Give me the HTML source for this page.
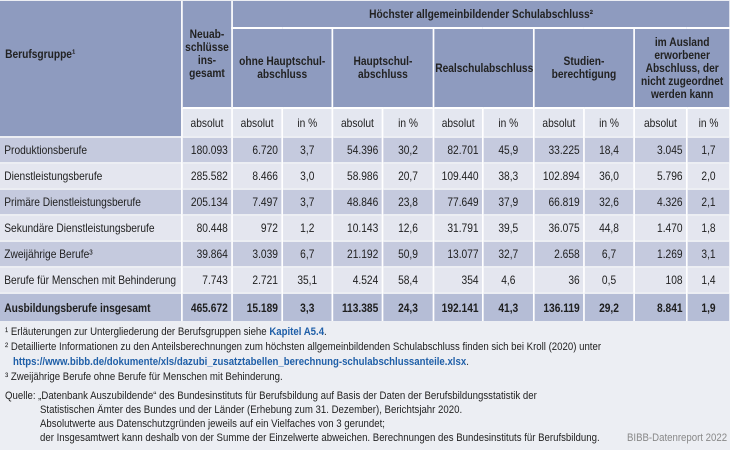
<!DOCTYPE html>
<html><head><meta charset="utf-8"><style>
*{margin:0;padding:0;box-sizing:border-box}
body{width:730px;height:450px;background:#eceef3;font-family:"Liberation Sans",sans-serif;color:#1e1e1e;position:relative;overflow:hidden}
.wrap{position:absolute;left:0;top:1px;width:859px;transform:scaleX(0.85);transform-origin:0 0}
table{border-collapse:collapse;table-layout:fixed;width:859px;font-size:12px}
td{border:2px solid #fff;border-top:none;border-bottom:none;padding:0 4px;white-space:nowrap}
tr.h td{background:#8e9bbf;font-weight:bold;text-align:center;color:#222;line-height:13px;padding:0 1px}
tr.s td{background:#e4e7f0;text-align:center;height:29px;border-top:2px solid #fff}
tr.d td{background:#c5cade;text-align:right;height:26px;border-top:2px solid #eceef3}
tr.l td{background:#e4e6ef;text-align:right;height:26px;border-top:2px solid #eceef3}
tr.t td{background:#b5bdd6;text-align:right;height:28px;font-weight:bold;border-top:2px solid #eceef3}
td.f{text-align:left!important;border-left:none}
tr.d td:first-child,tr.l td:first-child,tr.t td:first-child{text-align:left;border-left:none;padding-left:5px}
.p{text-align:center!important}
.fn{position:absolute;left:5px;font-size:11px;white-space:nowrap;color:#222;transform:scaleX(0.875);transform-origin:0 0}
a{color:#1f5fa8;font-weight:bold;text-decoration:none}
</style></head><body>
<div class="wrap">
<table>
<colgroup><col style="width:214px"><col style="width:59px"><col style="width:59px"><col style="width:59px"><col style="width:59px"><col style="width:60px"><col style="width:58px"><col style="width:60px"><col style="width:59px"><col style="width:59px"><col style="width:62px"><col style="width:51px"></colgroup>
<tr class="h"><td rowspan="2" class="f" style="padding-left:6px;height:107px">Berufsgruppe¹</td><td rowspan="2">Neuab-<br>schlüsse<br>ins-<br>gesamt</td><td colspan="10" style="height:27px;border-bottom:2px solid #fff">Höchster allgemeinbildender Schulabschluss²</td></tr>
<tr class="h"><td colspan="2" style="height:80px">ohne Hauptschul-<br>abschluss</td><td colspan="2">Hauptschul-<br>abschluss</td><td colspan="2">Realschulabschluss</td><td colspan="2">Studien-<br>berechtigung</td><td colspan="2">im Ausland<br>erworbener<br>Abschluss, der<br>nicht zugeordnet<br>werden kann</td></tr>
<tr class="s"><td style="background:#8e9bbf;border-top:none;border-left:none"></td><td>absolut</td><td>absolut</td><td>in %</td><td>absolut</td><td>in %</td><td>absolut</td><td>in %</td><td>absolut</td><td>in %</td><td>absolut</td><td>in %</td></tr>
<tr class="d"><td>Produktionsberufe</td><td>180.093</td><td>6.720</td><td class="p">3,7</td><td>54.396</td><td class="p">30,2</td><td>82.701</td><td class="p">45,9</td><td>33.225</td><td class="p">18,4</td><td>3.045</td><td class="p">1,7</td></tr>
<tr class="l"><td>Dienstleistungsberufe</td><td>285.582</td><td>8.466</td><td class="p">3,0</td><td>58.986</td><td class="p">20,7</td><td>109.440</td><td class="p">38,3</td><td>102.894</td><td class="p">36,0</td><td>5.796</td><td class="p">2,0</td></tr>
<tr class="d"><td>Primäre Dienstleistungsberufe</td><td>205.134</td><td>7.497</td><td class="p">3,7</td><td>48.846</td><td class="p">23,8</td><td>77.649</td><td class="p">37,9</td><td>66.819</td><td class="p">32,6</td><td>4.326</td><td class="p">2,1</td></tr>
<tr class="l"><td>Sekundäre Dienstleistungsberufe</td><td>80.448</td><td>972</td><td class="p">1,2</td><td>10.143</td><td class="p">12,6</td><td>31.791</td><td class="p">39,5</td><td>36.075</td><td class="p">44,8</td><td>1.470</td><td class="p">1,8</td></tr>
<tr class="d"><td>Zweijährige Berufe³</td><td>39.864</td><td>3.039</td><td class="p">6,7</td><td>21.192</td><td class="p">50,9</td><td>13.077</td><td class="p">32,7</td><td>2.658</td><td class="p">6,7</td><td>1.269</td><td class="p">3,1</td></tr>
<tr class="l"><td>Berufe für Menschen mit Behinderung</td><td>7.743</td><td>2.721</td><td class="p">35,1</td><td>4.524</td><td class="p">58,4</td><td>354</td><td class="p">4,6</td><td>36</td><td class="p">0,5</td><td>108</td><td class="p">1,4</td></tr>
<tr class="t"><td>Ausbildungsberufe insgesamt</td><td>465.672</td><td>15.189</td><td class="p">3,3</td><td>113.385</td><td class="p">24,3</td><td>192.141</td><td class="p">41,3</td><td>136.119</td><td class="p">29,2</td><td>8.841</td><td class="p">1,9</td></tr>
</table>
</div>
<div class="fn" style="top:326px">¹ Erläuterungen zur Untergliederung der Berufsgruppen siehe <a>Kapitel A5.4</a>.</div>
<div class="fn" style="top:341px">² Detaillierte Informationen zu den Anteilsberechnungen zum höchsten allgemeinbildenden Schulabschluss finden sich bei Kroll (2020) unter</div>
<div class="fn" style="top:356px;left:13px"><a>https://www.bibb.de/dokumente/xls/dazubi_zusatztabellen_berechnung-schulabschlussanteile.xlsx</a>.</div>
<div class="fn" style="top:371px">³ Zweijährige Berufe ohne Berufe für Menschen mit Behinderung.</div>
<div class="fn" style="top:390px">Quelle: „Datenbank Auszubildende“ des Bundesinstituts für Berufsbildung auf Basis der Daten der Berufsbildungsstatistik der</div>
<div class="fn" style="top:404px;left:40px">Statistischen Ämter des Bundes und der Länder (Erhebung zum 31. Dezember), Berichtsjahr 2020.</div>
<div class="fn" style="top:418px;left:40px">Absolutwerte aus Datenschutzgründen jeweils auf ein Vielfaches von 3 gerundet;</div>
<div class="fn" style="top:432px;left:40px">der Insgesamtwert kann deshalb von der Summe der Einzelwerte abweichen. Berechnungen des Bundesinstituts für Berufsbildung.</div>
<div class="fn" style="top:432px;left:627px;color:#888">BIBB-Datenreport 2022</div>
</body></html>
